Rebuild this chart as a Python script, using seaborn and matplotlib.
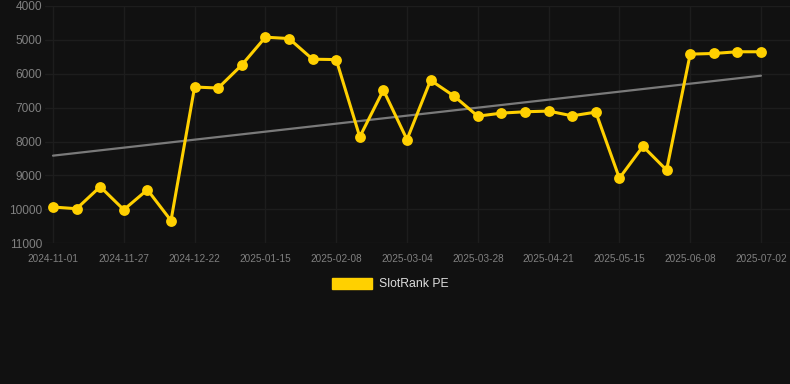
import numpy as np
import pandas as pd
import matplotlib.pyplot as plt
import seaborn as sns
from matplotlib.patches import Patch

# values (one point roughly every 8 days)
pe_values = [9930, 9980, 9330, 10010, 9420, 10330, 6390, 6420, 5740, 4920,
             4960, 5570, 5580, 7860, 6480, 7940, 6190, 6660, 7250, 7160,
             7120, 7100, 7240, 7130, 9080, 8140, 8840, 5420, 5400, 5350, 5350]
tick_labels = ['2024-11-01', '2024-11-27', '2024-12-22', '2025-01-15', '2025-02-08',
               '2025-03-04', '2025-03-28', '2025-04-21', '2025-05-15', '2025-06-08',
               '2025-07-02']
y_ticks = [4000, 5000, 6000, 7000, 8000, 9000, 10000, 11000]
series_name = 'SlotRank PE'

bg = '#111111'
grid_col = '#1d1d1d'
yellow = '#FFD000'

df = pd.DataFrame({'idx': np.arange(len(pe_values)), 'pe': pe_values})
coef = np.polyfit(df['idx'], df['pe'], 1)  # linear trend through the series
df['trend'] = np.polyval(coef, df['idx'])

sns.set_style('dark')
plt.rcParams['font.family'] = ['Liberation Sans', 'DejaVu Sans']

fig = plt.figure(figsize=(7.9, 3.84), dpi=100, facecolor=bg)
ax = fig.add_axes([45 / 790, 140.7 / 384, 745 / 790, 237.3 / 384])
ax.set_facecolor(bg)

sns.lineplot(data=df, x='idx', y='trend', ax=ax, color='#7a7a7a', linewidth=1.6, zorder=2)
sns.lineplot(data=df, x='idx', y='pe', ax=ax, color=yellow, linewidth=2.2,
             marker='o', markersize=7.8, markeredgewidth=0, zorder=3)

ax.set_xlim(-0.339, 31.23)
ax.set_ylim(11000, 4000)
ax.set_yticks(y_ticks)
ax.set_yticklabels([str(v) for v in y_ticks])
ax.set_xticks(np.arange(0, len(pe_values), 3))
ax.set_xticklabels(tick_labels)
ax.set_xlabel('')
ax.set_ylabel('')

ax.grid(True, color=grid_col, linewidth=1)
for s in ax.spines.values():
    s.set_visible(False)
ax.tick_params(axis='y', length=0, pad=2, labelsize=8.6, labelcolor='#808080')
ax.tick_params(axis='x', length=4, color=grid_col, pad=4, labelsize=7.2, labelcolor='#808080')

fig.legend(handles=[Patch(facecolor=yellow, edgecolor=yellow)], labels=[series_name],
           loc='center', bbox_to_anchor=(0.494, 0.26), frameon=False,
           handlelength=3.3, handleheight=1.0, handletextpad=0.6,
           fontsize=8.8, labelcolor='#dddddd')

fig.savefig('out.png', dpi=100, facecolor=bg)
